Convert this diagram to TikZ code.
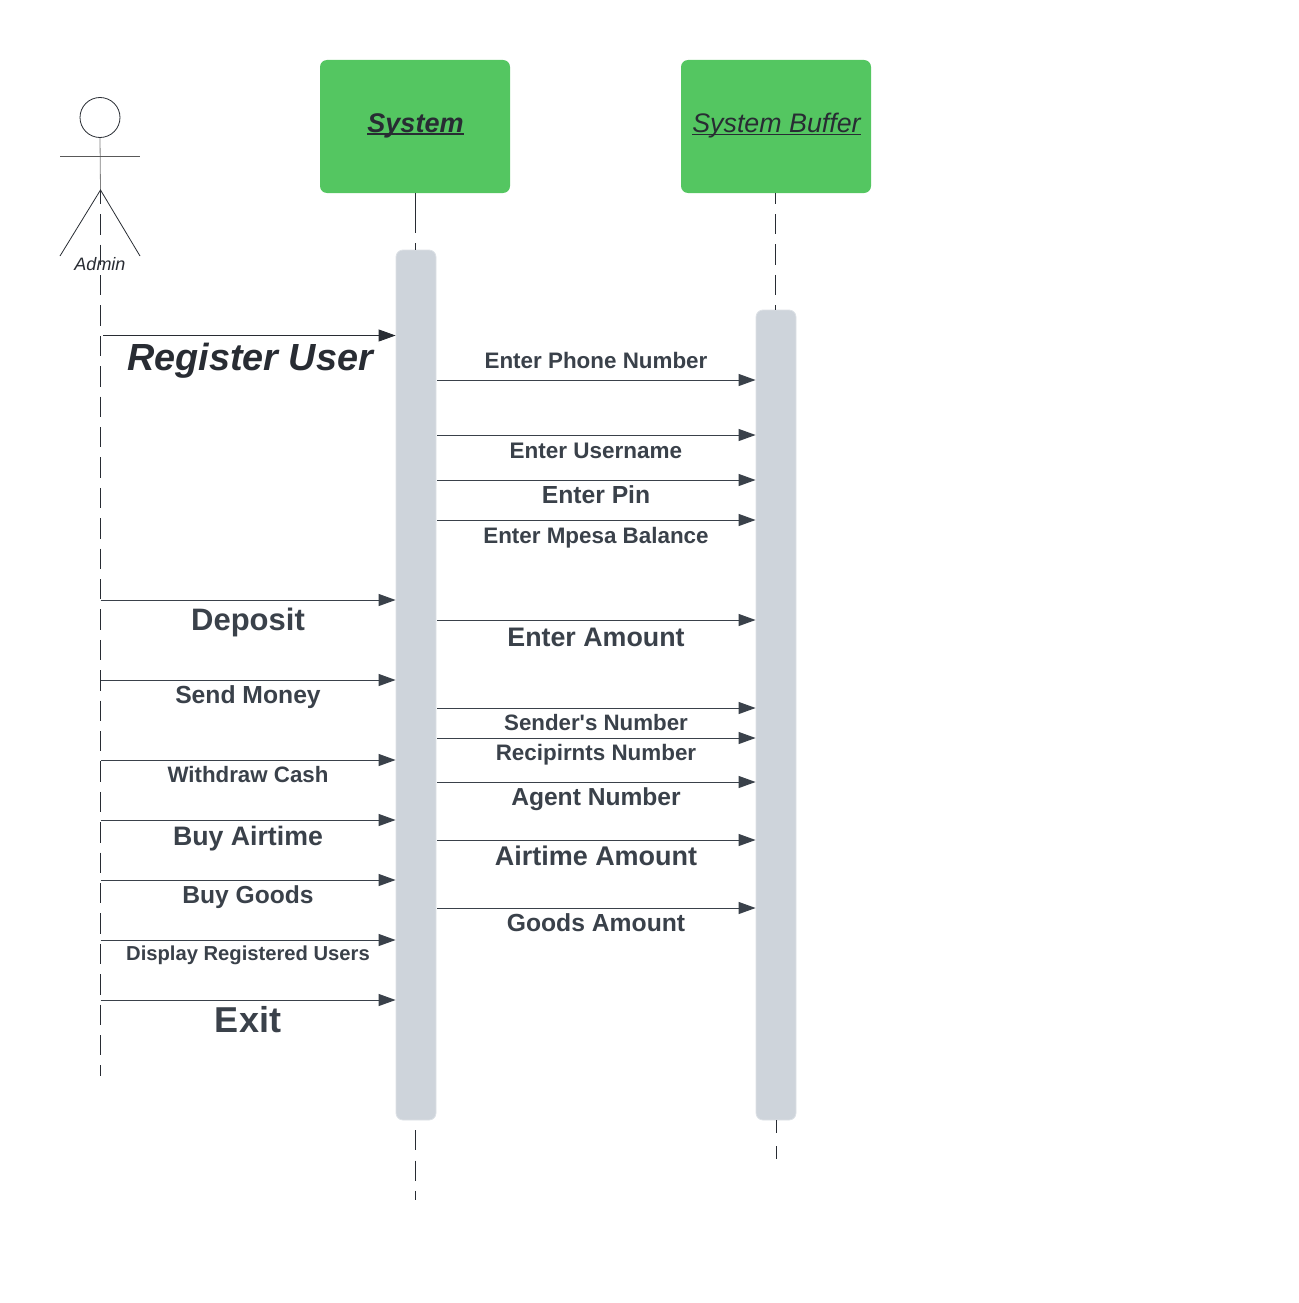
\documentclass[tikz,border=0pt]{standalone}
\usepackage{fontspec}
\setmainfont{Liberation Sans}
\usepackage{xcolor}
\usetikzlibrary{arrows.meta,positioning}
\definecolor{boxgreen}{HTML}{54C661}
\definecolor{barfill}{HTML}{CED4DB}
\definecolor{barline}{HTML}{DDE1E6}
\definecolor{msgline}{HTML}{3A414A}
\definecolor{inktext}{HTML}{282C33}
\tikzset{
  vhead/.style={fill=boxgreen,rounded corners=7pt,minimum width=190pt,minimum height=133pt,inner sep=0pt,text=inktext},
  vbar/.style={draw=barline,line width=0.8pt,fill=barfill,rounded corners=7pt,minimum width=40pt,inner sep=0pt},
  vlife/.style={line width=0.9pt,draw=inktext,dash pattern=on 20.3pt off 10.1pt},
  vactor/.style={line width=0.8pt,draw=inktext},
  varr/.style={-{Triangle[length=17pt,width=12pt]},line width=1pt,draw=msgline},
  vlab/.style={anchor=base,inner sep=0pt,text=msgline}
}
\newcommand{\fs}[1]{\fontsize{#1}{#1}\selectfont\bfseries}
\newcommand{\ulin}[2]{\setbox0\hbox{#2}\rlap{\rule[-3pt]{\wd0}{#1}}\box0}
\begin{document}
\begin{tikzpicture}[x=1pt,y=-1pt]
  \useasboundingbox (0,0) rectangle (1298,1303);
  % head boxes and activation bars
  \node[vhead] (system) at (415,126.5) {};
  \node[vlab,text=inktext,font=\fs{27}\itshape] (systemlab) at (415.5,132) {\ulin{1.6pt}{System}};
  \node[vhead] (buffer) at (776,126.5) {};
  \node[vlab,text=inktext,font=\fontsize{26.8}{27}\selectfont\itshape] (bufferlab) at (776.5,132) {\ulin{1.2pt}{System Buffer}};
  \node[vbar,minimum height=870pt] (sysbar) at (416,685) {};
  \node[vbar,minimum height=810pt] (bufbar) at (776,715) {};
  % actor
  \node[circle,vactor,minimum size=40pt,inner sep=0pt] (head) at (100,117.5) {};
  \coordinate (hip) at (100.5,190);
  \coordinate (armL) at (60,156.5);
  \coordinate (armR) at (140,156.5);
  \coordinate (legL) at (60,256);
  \coordinate (legR) at (140,256);
  \draw[vactor,draw=gray] (head.south) -- (hip);
  \draw[vactor,draw=gray!70!black] (armL) -- (armR);
  \draw[vactor] (legL) -- (hip) -- (legR);
  \node[vlab,text=inktext,font=\fontsize{18}{18}\selectfont\itshape] (admin) at (100,270) {Admin};
  % lifelines
  \coordinate (adminend) at (100.5,1076);
  \coordinate (systop) at (415.5,193);
  \coordinate (systopend) at (415.5,250);
  \coordinate (buftop) at (775.5,193);
  \coordinate (buftopend) at (775.5,310);
  \coordinate (sysstart) at (415.5,1120);
  \coordinate (sysend) at (415.5,1200);
  \coordinate (bufstart) at (776.5,1120);
  \coordinate (bufend) at (776.5,1160);
  \draw[vlife,dash phase=6.2pt] (hip) -- (adminend);
  \draw[vlife,dash pattern=on 40pt off 10pt] (systop) -- (systopend);
  \draw[vlife,dash phase=9.4pt] (buftop) -- (buftopend);
  \draw[vlife,dash phase=20.3pt] (sysstart) -- (sysend);
  \draw[vlife,dash pattern=on 13pt off 13pt] (bufstart) -- (bufend);
  % messages from the admin
  \coordinate (reg) at (103,335.5);
  \draw[varr,draw=inktext] (reg) -- (sysbar.west |- reg);
  \node[vlab,text=inktext,font=\fs{37.8}\itshape] (reglab) at (250,370) {Register User};
  \foreach \y/\ly/\sz/\lab in {600/619/31/Deposit,680/695/24.7/Send Money,760/774/22.3/Withdraw Cash,820/836/26.7/Buy Airtime,880/895/24.6/Buy Goods,940/953/20.2/Display Registered Users,1000/1020/36/Exit}{
    \coordinate (a\y) at (100.5,\y);
    \draw[varr] (a\y) -- (sysbar.west |- a\y);
    \node[vlab,font=\fs{\sz}] (alab\y) at (248,{\ly+0.36*\sz}) {\lab};
  }
  % messages to the buffer
  \foreach \y/\ly/\sz/\lab in {380/360/22.4/Enter Phone Number,435/450/22.5/Enter Username,480/495/24.7/Enter Pin,520/535/22.4/Enter Mpesa Balance,620/637/26.8/Enter Amount,708/722/22.3/Sender\textquotesingle s Number,738/752/22.4/Recipirnts Number,782/797/24.6/Agent Number,840/856/27/Airtime Amount,908/923/24.7/Goods Amount}{
    \coordinate (b\y) at (437,\y);
    \draw[varr] (b\y) -- (bufbar.west |- b\y);
    \node[vlab,font=\fs{\sz}] (blab\y) at (596,{\ly+0.36*\sz}) {\lab};
  }
\end{tikzpicture}
\end{document}
